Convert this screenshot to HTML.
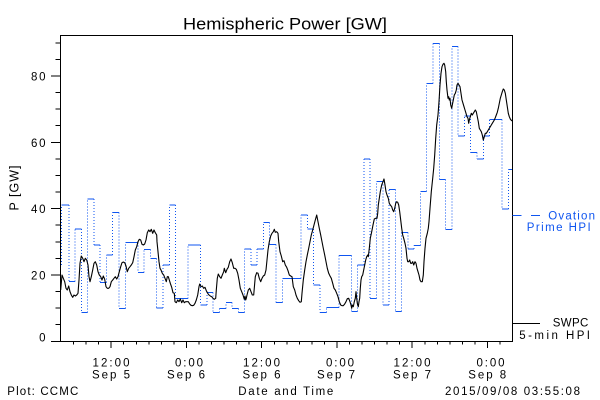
<!DOCTYPE html>
<html>
<head>
<meta charset="utf-8">
<style>
  html,body{margin:0;padding:0;background:#fff;}
  svg{display:block;}
  text{font-family:"Liberation Sans",sans-serif;}
</style>
</head>
<body>
<svg width="600" height="400" viewBox="0 0 600 400" xmlns="http://www.w3.org/2000/svg">
<rect width="600" height="400" fill="#fff"/>

<!-- Title -->
<text x="183" y="29.3" font-size="16.5" textLength="204" lengthAdjust="spacingAndGlyphs">Hemispheric Power [GW]</text>

<!-- Blue step series: horizontals -->
<path fill="none" stroke="#0f55f0" stroke-width="1" shape-rendering="crispEdges" d="
M61.3,205H68.8 M68.8,281.7H75.1 M75.1,229H81.3 M81.3,312.3H87.6 M87.6,199H93.9 M93.9,245H100.2
M100.2,282.3H106.5 M106.5,255H112.7 M112.7,212.3H119 M119,308.3H125.3 M125.3,242.3H137.9
M137.9,272.3H144.1 M144.1,249.3H150.4 M150.4,258.3H156.7 M156.7,308H163 M163,265H169.3
M169.3,205H175.5 M175.5,298.3H188.1 M188.1,245H200.7 M200.7,305H206.9 M206.9,292.3H213.2
M213.2,312.3H219.5 M219.5,308.3H225.8 M225.8,302.3H232.1 M232.1,308.3H238.3 M238.3,312.3H244.6
M244.6,249H250.9 M250.9,265H257.2 M257.2,249H263.5 M263.5,222.3H269.7 M269.7,244.3H276
M276,302.3H282.3 M282.3,278.3H301.1 M301.1,215H307.4 M307.4,229H313.7 M313.7,285H320
M320,312.3H326.3 M326.3,307.7H338.8 M338.8,255.7H351.4 M351.4,311.7H357.7 M357.7,265H363.9
M363.9,159H370.2 M370.2,298.3H376.5 M376.5,181.7H382.8 M382.8,305H389.1 M389.1,189.3H395.3
M395.3,311.7H401.6 M401.6,232.3H407.9 M407.9,249H414.2 M414.2,245.7H420.5 M420.5,191.7H426.7
M426.7,83.3H433 M433,43.3H439.3 M439.3,179.3H445.6 M445.6,229.3H451.9 M451.9,46.7H458.1
M458.1,136H464.4 M464.4,116H470.7 M470.7,152.3H477 M477,159H483.3 M483.3,136H489.5
M489.5,119.3H502.1 M502.1,209H508.4 M508.4,169.3H512"/>

<!-- Blue step series: dotted verticals -->
<path fill="none" stroke="#0f55f0" stroke-width="1" stroke-dasharray="1 2" shape-rendering="crispEdges" d="
M61.3,265V205 M68.8,205V281.7 M75.1,281.7V229 M81.3,229V312.3 M87.6,312.3V199 M93.9,199V245
M100.2,245V282.3 M106.5,282.3V255 M112.7,255V212.3 M119,212.3V308.3 M125.3,308.3V242.3
M137.9,242.3V272.3 M144.1,272.3V249.3 M150.4,249.3V258.3 M156.7,258.3V308 M163,308V265
M169.3,265V205 M175.5,205V298.3 M188.1,298.3V245 M200.7,245V305 M206.9,305V292.3
M213.2,292.3V312.3 M219.5,312.3V308.3 M225.8,308.3V302.3 M232.1,302.3V308.3 M238.3,308.3V312.3
M244.6,312.3V249 M250.9,249V265 M257.2,265V249 M263.5,249V222.3 M269.7,222.3V244.3
M276,244.3V302.3 M282.3,302.3V278.3 M301.1,278.3V215 M307.4,215V229 M313.7,229V285
M320,285V312.3 M326.3,312.3V307.7 M338.8,307.7V255.7 M351.4,255.7V311.7 M357.7,311.7V265
M363.9,265V159 M370.2,159V298.3 M376.5,298.3V181.7 M382.8,181.7V305 M389.1,305V189.3
M395.3,189.3V311.7 M401.6,311.7V232.3 M407.9,232.3V249 M414.2,249V245.7 M420.5,245.7V191.7
M426.7,191.7V83.3 M433,83.3V43.3 M439.3,43.3V179.3 M445.6,179.3V229.3 M451.9,229.3V46.7
M458.1,46.7V136 M464.4,136V116 M470.7,116V152.3 M477,152.3V159 M483.3,159V136
M489.5,136V119.3 M502.1,119.3V209 M508.4,209V169.3"/>

<!-- Black 5-min series -->
<polyline fill="none" stroke="#000" stroke-width="1.1" stroke-linejoin="round" points="
60.7,290 62,275 63.3,278.3 64.7,281.7 66,288.3 67.3,290 68.7,286 70,291.7 71.3,295 72.7,297.3 74,295 75.3,296 76.7,295 78,293.3 79,280 80,263.3 81.3,256 82.7,258.3 84,261.7 85.3,258.3 86.7,260 88,265 89,276.7 90,281.7 91.3,276.7 92.7,270 94,263.3 95.3,261.7 96.7,265 98,271.7 99.3,275 100.7,276.7 102,280 103.3,276 104.7,279.3 106,286.7 107.3,288.3 108.7,288.3 110,286.7 111.3,281.7 112.7,280 114,278.3 115.3,276.7 116.7,279 118,276.7 119.3,271.7 120.7,266.7 122,262.7 123.3,262 124.7,262.7 126,266 127.3,271.7 128.7,268.3 130,266.7 131.3,265 132.7,262.7 134,256.7 135.3,250 136.7,246.7 138,241.7 139.3,239.3 140.7,240 142,244.3 143.3,245 144.7,244 146,240 147.3,232.7 148.7,230 150,231.7 151.3,229.3 152.7,233.3 154,230 155.3,232.7 156.7,235 157,241.7 158,251.7 159,261.7 160,268.3 161,270 162.3,273.3 163.7,275 165,278.3 166.3,281.7 167.3,276.7 168.3,276.7 169.3,280 170.3,283.3 171.7,287.3 173,292.7 174.3,293.3 175,301.7 176.3,302.7 177.7,300 179,301.7 180.3,299 181.7,302.7 183,300 184.3,302.7 185.7,301.7 188.3,301.7 189.7,304 191,305.3 192.3,305.7 193.7,305.3 195,303.3 196.3,300 197.7,295 199,286.7 199.7,284 201,286.7 202.3,286 203.7,288.3 205,287.3 206.3,290.7 207.7,293.3 209,295 210.3,296 211.7,296.7 213,298.3 214.3,299.3 215.7,298.3 216.3,290 217.3,278.3 218.3,274 219.7,276.7 221,278.3 222.3,275 223.7,271.7 224.3,268.3 225.7,272.7 227,269.3 228.3,267.3 229.7,261.7 231,259 232.3,262.7 233.7,268.3 235,268.3 236.3,269.3 237.7,273.3 239,280 240.3,288.3 241.7,291.7 243,295 244.3,299.3 245,296 245.7,300 246.3,298.3 247,295 248.3,290 249.7,288.3 251,291.7 252.3,295 253.7,295 254.7,283.3 255.3,276.7 256.7,272.7 258,273.3 259.3,278.3 260.7,281.7 262,278.3 263.3,276 264.7,275 266,270 267,260 268,250 269.3,241.7 270.7,236 272,233.3 273.3,231.7 274.3,229.3 275.3,232.3 276.7,231.7 278,233.3 278.7,241.7 280,251.7 281.3,256 282.7,261.7 284,260.7 285.3,265 286.7,267.3 288,270.7 289.3,275 290.7,276 292,276.7 293.3,286.7 294.7,290 296,295 297.3,298.3 298.7,300.7 300,302.3 301.3,301.7 302,293.3 303.3,280 304.7,270 306,261.7 307.3,255 308.7,248.3 310,241.7 311.3,235 312.7,230 314,225 315.3,220 316.7,215 318,221.7 319.3,228.3 320.7,235 322,241.7 323.3,248.3 324.7,255 326,261.7 327.3,268.3 328.7,273.3 330,276 331.3,278.3 332.7,283.3 334,288.3 335.3,290 336.7,293.3 338,296.7 339.3,301.7 340.7,305 342,305.7 343.3,305.7 344.7,304 346,301.7 347.3,298.7 348.7,298.3 350,301.7 351,305 351.7,308.3 352.3,305 353.3,306.7 354.3,301.7 355.3,298.3 356,291.7 356.7,298.3 357.3,303.3 358.3,306.7 359,301.7 359.7,298.3 360.3,288.3 361,280 361.7,276.7 362.7,275 363.7,270 364.7,265 365.7,260 366.7,256.7 367.7,255 368.3,256.7 369.3,248.3 370.3,238.3 371.7,231.7 373,225 374.3,219 375.7,218.3 377,218.3 377.7,213.3 378.3,205 379.3,198.3 380.3,191.7 381.7,185 383,181.7 384,179 385,185 386,191.7 387,195 388.3,198.3 389.3,203.3 390.3,205 391.7,206.7 392.7,210 393.7,211.7 394.7,208.3 395.7,203.3 396.7,201.7 397.7,202.3 398.7,205 399.7,211.7 400.7,220 401.7,228.3 402.7,235 403.7,238.3 405,243.3 406,248.3 407,258.3 407.7,261.7 408.7,261.7 409.7,260 410.7,263.3 411.7,263.3 412.7,261.7 413.7,265 415,261.7 416,263.3 417,268.3 418,271.7 419,275 420,280 421,281.7 422.3,281.7 423.3,275 424,261.7 425,248.3 426,238.3 427.3,233.3 428.3,228.3 429,221.7 430,208.3 431.3,191.7 432.7,178.3 433.7,168.3 434.7,155 435.7,138.3 436.7,125 438,115 439,101.7 440,85 441,73.3 442,66.7 443,64.3 444,63.3 444.7,65 445.7,71.7 446.3,81.7 447,90 448,98.3 448.7,96.7 449.3,100 450,98.3 450.7,105 451.7,108.3 452.3,105 453.3,100 454.3,95 455.3,93.3 456.3,90 457,85 458,83.3 459,85 460,86.7 461,93.3 462,100 463,103.3 464,106.7 465,110 466,113.3 467,116.7 468,118.3 468.7,123.3 469.3,120 470.3,116.7 471.3,113.3 472.3,115 473.3,113.3 474.3,111.7 475.3,110 476.3,111.7 477.3,116.7 478.3,121.7 479.3,128.3 480.3,130 481.3,131.7 482.3,135 483.3,140 484.3,136.7 485.3,133.3 486.3,133.3 487.3,131.7 488.3,130 489.3,128.3 490.3,126.7 491.3,125 492.3,123.3 493.3,121.7 494.3,120 495.3,117.7 496.3,115 497.3,112.3 498.3,108.3 499.3,103.3 500.3,98.3 501.3,95 502.3,91.7 503.3,89 504.3,90 505.3,93.3 506.3,100 507.3,106.7 508.3,113.3 509.3,116.7 510.3,119 511.3,120.3 512,121"/>

<!-- Axes box -->
<path fill="none" stroke="#000" stroke-width="1" shape-rendering="crispEdges" d="M60.5,35.5H512.5V341.5H60.5Z"/>

<!-- Y ticks -->
<path fill="none" stroke="#000" stroke-width="1" shape-rendering="crispEdges" d="
M51,341.3H60 M51,275H60 M51,208.6H60 M51,142.3H60 M51,75.9H60
M55.5,324.7H60 M55.5,308.1H60 M55.5,291.5H60 M55.5,258.4H60 M55.5,241.8H60 M55.5,225.2H60
M55.5,192H60 M55.5,175.5H60 M55.5,158.9H60 M55.5,125.7H60 M55.5,109.1H60 M55.5,92.5H60
M55.5,59.4H60 M55.5,42.8H60"/>

<!-- X ticks -->
<path fill="none" stroke="#000" stroke-width="1" shape-rendering="crispEdges" d="
M111.2,341V348 M186.5,341V348 M261.7,341V348 M337,341V348 M412.2,341V348 M487.5,341V348
M73.6,341V344.5 M86.1,341V344.5 M98.7,341V344.5
M123.7,341V344.5 M136.3,341V344.5 M148.8,341V344.5 M161.4,341V344.5 M173.9,341V344.5
M199,341V344.5 M211.6,341V344.5 M224.1,341V344.5 M236.7,341V344.5 M249.2,341V344.5
M274.3,341V344.5 M286.8,341V344.5 M299.4,341V344.5 M311.9,341V344.5 M324.5,341V344.5
M349.6,341V344.5 M362.1,341V344.5 M374.7,341V344.5 M387.2,341V344.5 M399.7,341V344.5
M424.8,341V344.5 M437.3,341V344.5 M449.9,341V344.5 M462.4,341V344.5 M475,341V344.5
M500,341V344.5"/>

<!-- Y tick labels -->
<g font-size="11.5" text-anchor="end" fill="#000">
  <text x="45.5" y="341.7">0</text>
  <text x="45.5" y="279.5" textLength="14.5" lengthAdjust="spacing">20</text>
  <text x="45.5" y="213.1" textLength="14.5" lengthAdjust="spacing">40</text>
  <text x="45.5" y="146.8" textLength="14.5" lengthAdjust="spacing">60</text>
  <text x="45.5" y="80.4" textLength="14.5" lengthAdjust="spacing">80</text>
</g>

<!-- Y axis title -->
<text transform="translate(18.5,188) rotate(-90)" font-size="12.5" text-anchor="middle" textLength="45" lengthAdjust="spacing">P [GW]</text>

<!-- X tick labels -->
<g font-size="11.5" text-anchor="middle" fill="#000">
  <text x="111" y="366.5" textLength="37" lengthAdjust="spacing">12:00</text>
  <text x="111" y="378.5" textLength="38" lengthAdjust="spacing">Sep 5</text>
  <text x="189" y="366.5" textLength="28" lengthAdjust="spacing">0:00</text>
  <text x="186" y="378.5" textLength="38" lengthAdjust="spacing">Sep 6</text>
  <text x="261.5" y="366.5" textLength="37" lengthAdjust="spacing">12:00</text>
  <text x="261.5" y="378.5" textLength="38" lengthAdjust="spacing">Sep 6</text>
  <text x="340" y="366.5" textLength="28" lengthAdjust="spacing">0:00</text>
  <text x="336" y="378.5" textLength="38" lengthAdjust="spacing">Sep 7</text>
  <text x="412" y="366.5" textLength="37" lengthAdjust="spacing">12:00</text>
  <text x="412" y="378.5" textLength="38" lengthAdjust="spacing">Sep 7</text>
  <text x="490.5" y="366.5" textLength="28" lengthAdjust="spacing">0:00</text>
  <text x="487.2" y="378.5" textLength="38" lengthAdjust="spacing">Sep 8</text>
</g>

<!-- Footer -->
<g font-size="11.5" fill="#000">
  <text x="7.3" y="395" textLength="71" lengthAdjust="spacing">Plot: CCMC</text>
  <text x="238.3" y="395" textLength="95" lengthAdjust="spacing">Date and Time</text>
  <text x="445" y="395" textLength="135" lengthAdjust="spacing">2015/09/08 03:55:08</text>
</g>

<!-- Legend -->
<path fill="none" stroke="#0f55f0" stroke-width="1" shape-rendering="crispEdges" d="M512.5,215.5H521.7 M531,215.5H540"/>
<g font-size="11.5" fill="#0f55f0">
  <text x="548.3" y="219.3" textLength="46.7" lengthAdjust="spacing">Ovation</text>
  <text x="526.7" y="231" textLength="64" lengthAdjust="spacing">Prime HPI</text>
</g>
<path fill="none" stroke="#000" stroke-width="1" shape-rendering="crispEdges" d="M512,323.5H540"/>
<g font-size="11.5" fill="#000">
  <text x="552.7" y="326.7" textLength="35.6" lengthAdjust="spacing">SWPC</text>
  <text x="519.3" y="339" textLength="70.7" lengthAdjust="spacing">5-min HPI</text>
</g>
</svg>
</body>
</html>
